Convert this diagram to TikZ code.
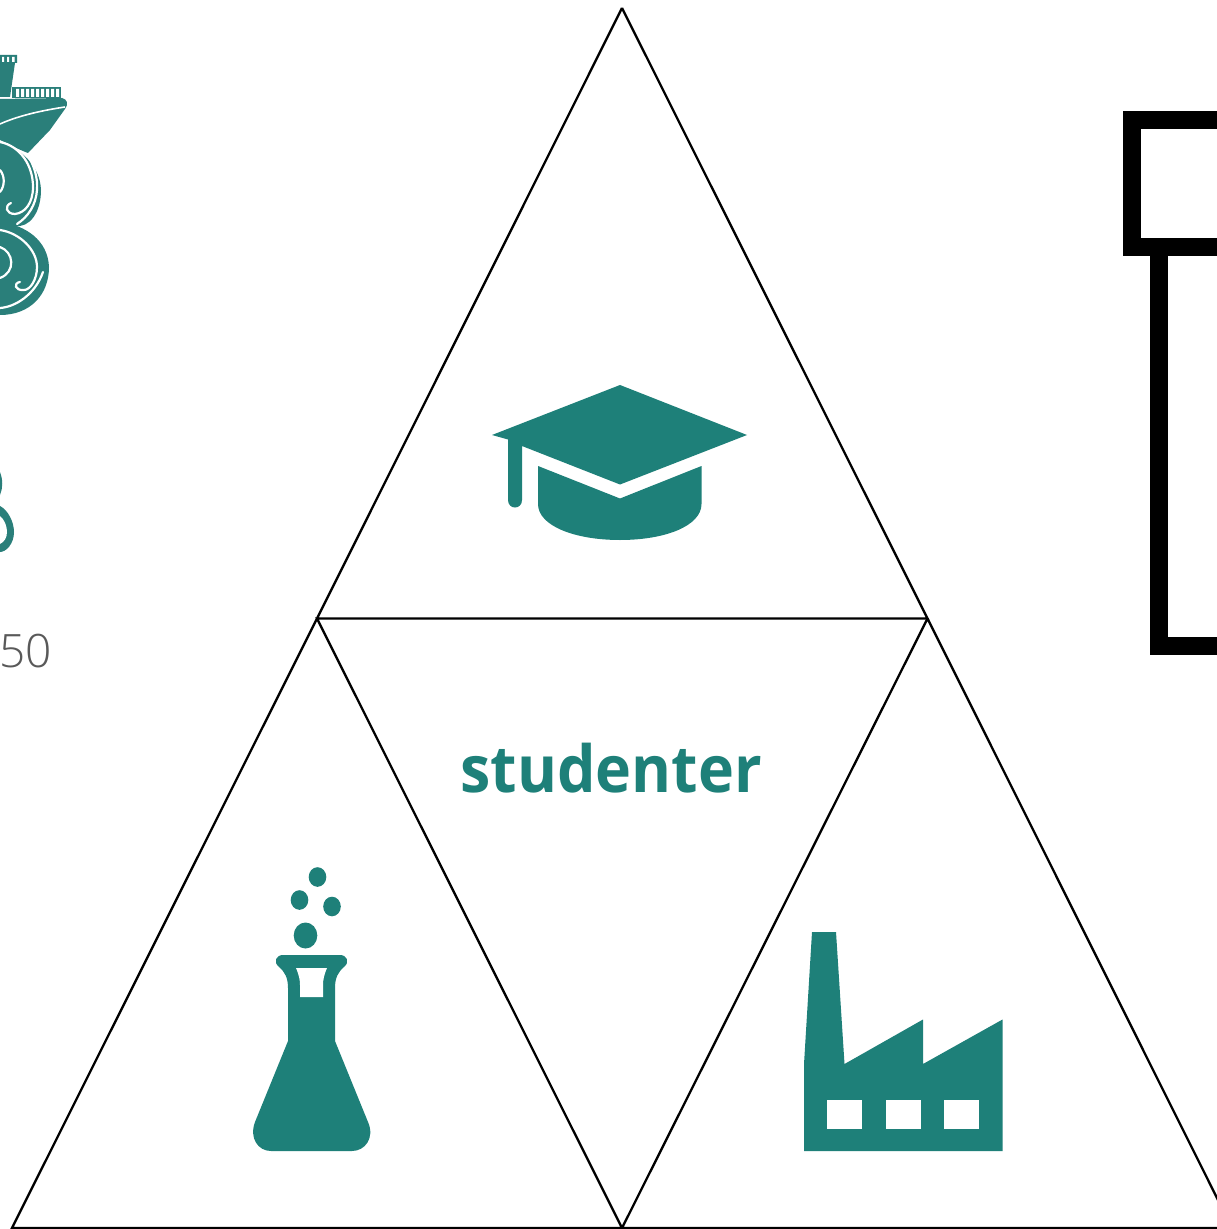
\documentclass[tikz,border=0pt]{standalone}
\usepackage{graphicx}
\usepackage{fontspec}
\setmainfont{Open Sans}
\newfontfamily\lightfont{Open Sans Light}
\definecolor{teal1}{HTML}{1E8079}
\definecolor{logoteal}{HTML}{2A7F7A}
\tikzset{
  x=0.5pt,y=-0.5pt,
  tri/.style={draw=black,line width=1.15pt,line join=miter},
  icon/.style={fill=teal1,draw=none},
  hole/.style={fill=white,draw=none},
  logo/.style={fill=logoteal,draw=none},
  logoline/.style={draw=white,line width=1.1pt,fill=none,line cap=round},
  heavy/.style={draw=black,line width=9pt,fill=none,line join=miter}
}
\begin{document}
\begin{tikzpicture}
\useasboundingbox (0,0) rectangle (1216,1229);
\fill[white] (0,0) rectangle (1216,1229);
% triangles
\coordinate (top) at (622,8);
\coordinate (ml) at (317,618.5);
\coordinate (mr) at (927.5,618.5);
\coordinate (bl) at (12,1228);
\coordinate (bm) at (622,1228);
\coordinate (br) at (1232,1228);
\draw[tri] (top) -- (ml) -- (bl) -- (bm) -- (ml) -- (mr) -- (top);
\draw[tri] (mr) -- (bm) -- (br) -- (mr);
% graduation cap
\path[icon] (620,385) -- (747,435) -- (620,484.5) -- (522,446) -- (522,500) .. controls (522,510) and (508,510) .. (508,500) -- (508,439.5) -- (492,435) -- cycle;
\path[icon] (538,466) -- (620,498.5) -- (701.5,466) -- (701.5,504) .. controls (701.5,526) and (665,540) .. (620,540) .. controls (575,540) and (538,526) .. (538,504) -- cycle;
% flask
\path[icon] (283,955) -- (340,955) .. controls (347,955) and (350,962) .. (344,967) .. controls (338,972) and (335,978) .. (335,988) -- (335,1041) -- (368,1122) .. controls (375,1138) and (365,1151) .. (352,1151) -- (271,1151) .. controls (258,1151) and (249,1138) .. (255,1122) -- (288,1041) -- (288,988) .. controls (288,978) and (285,972) .. (279,967) .. controls (273,962) and (276,955) .. (283,955) -- cycle;
\path[hole] (296,968) -- (327,968) .. controls (324,975) and (323,980) .. (323,985) -- (323,997) -- (300,997) -- (300,985) .. controls (300,980) and (299,975) .. (296,968) -- cycle;
\path[icon] (305.5,935.5) ellipse [x radius=11.8,y radius=13];
\path[icon] (299.5,900) ellipse [x radius=8.8,y radius=9.8];
\path[icon] (332,906.5) ellipse [x radius=8.8,y radius=9.8];
\path[icon] (317.5,877) ellipse [x radius=8.8,y radius=9.8];
% factory
\path[icon] (812,932) -- (836,932) -- (844.5,1064) -- (923,1019.5) -- (923,1064) -- (1002.5,1019.5) -- (1002.5,1151) -- (804,1151) -- (804,1064) -- cycle;
\path[hole] (827,1099.5) rectangle (862,1128.5);
\path[hole] (885.5,1099.5) rectangle (920.5,1128.5);
\path[hole] (944,1099.5) rectangle (979,1128.5);
% label
\node[text=teal1,font=\bfseries\fontsize{32.5pt}{36pt}\selectfont,inner sep=0pt] (lbl) at (611,768) {\scalebox{0.937}[1]{studenter}};
% heavy boxes at right
\draw[heavy] (1240,120.5) -- (1132,120.5) -- (1132,247.5) -- (1240,247.5);
\draw[heavy] (1159,247) -- (1159,646) -- (1240,646);
% ship logo
\path[logo] (0,55) -- (17,55) -- (17,63) -- (15,63) -- (10,97) -- (0,97) -- cycle;
\path[hole] (2,57) rectangle (4,62) (7,57) rectangle (9,62) (12,57) rectangle (14.5,62);
\path[logo] (12,87) -- (61,87) -- (61,98) -- (12,98) -- cycle;
\path[hole] (16,89) rectangle (19,97) (21,89) rectangle (24,97) (26,89) rectangle (29,97) (31,89) rectangle (34,97) (36,89) rectangle (39,97) (41,89) rectangle (44,97) (46,89) rectangle (49,97) (51,89) rectangle (54,97) (56,89) rectangle (59,97);
\path[logo] (0,99) -- (62,98) .. controls (67,99) and (69,104) .. (65,109) -- (50,130) -- (28,153) .. controls (20,150) and (10,145) .. (0,140) -- cycle;
\draw[white,line width=0.8pt] (0,124) .. controls (20,115) and (45,110) .. (65,107);
\path[logo] (0,142) .. controls (20,148) and (40,165) .. (41,190) .. controls (41,212) and (30,228) .. (15,226) -- (0,225) -- cycle;
\draw[logoline] (0,142) .. controls (20,146) and (33,165) .. (33,187) .. controls (33,203) and (25,213) .. (15,214) .. controls (6,214) and (4,206) .. (11,203);
\draw[logoline] (28,156) .. controls (34,165) and (38,178) .. (37,190) .. controls (36,205) and (28,217) .. (17,224);
\draw[logoline] (0,170) .. controls (5,176) and (5,186) .. (0,192);
\path[logo] (0,222) .. controls (25,225) and (48,240) .. (49,267) .. controls (49,295) and (30,315) .. (0,315) -- cycle;
\draw[logoline] (0,230) .. controls (20,233) and (37,250) .. (37,267) .. controls (37,280) and (30,290) .. (24,290) .. controls (15,291) and (13,283) .. (20,282);
\draw[logoline] (0,247) .. controls (14,252) and (16,272) .. (0,278);
\draw[logoline] (0,308) .. controls (15,307) and (35,295) .. (43,272);
% lower logo fragment
\path[logo] (0,472) .. controls (3,480) and (3,488) .. (0,495) -- cycle;
\path[logo] (0,506) .. controls (8,510) and (14,522) .. (14,532) .. controls (14,544) and (6,552) .. (0,552) -- cycle;
\path[hole] (0,516) .. controls (5,520) and (7,527) .. (7,532) .. controls (7,538) and (4,542) .. (0,544) -- cycle;
\node[text=black!65,font=\lightfont\fontsize{23pt}{26pt}\selectfont,anchor=base east,inner sep=0pt] (yr) at (52,667) {50};
\end{tikzpicture}
\end{document}
